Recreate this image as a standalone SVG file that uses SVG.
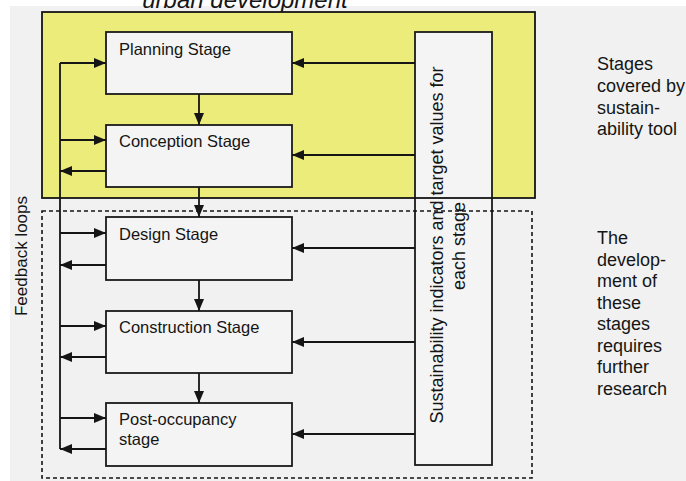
<svg xmlns="http://www.w3.org/2000/svg" width="686" height="481" viewBox="0 0 686 481">
<defs>
<marker id="ah" viewBox="0 0 12 10" refX="12" refY="5" markerWidth="12" markerHeight="10" markerUnits="userSpaceOnUse" orient="auto">
<path d="M0,0 L12,5 L0,10 Z" fill="#151515"/>
</marker>
<style>
.t{font-family:"Liberation Sans",Arial,sans-serif;fill:#151515}
.lbl{font-size:16.5px}
.side{font-size:18px}
.box{fill:#f4f4f4;stroke:#1a1a1a;stroke-width:1.8}
.c{fill:none;stroke:#151515;stroke-width:1.8}
.ca{fill:none;stroke:#151515;stroke-width:1.8;marker-end:url(#ah)}
</style>
</defs>
<rect x="0" y="0" width="686" height="481" fill="#ffffff"/>
<rect x="10" y="6" width="676" height="475" fill="#f1f1f1"/>
<text class="t" x="245" y="8" font-size="24" font-style="italic" text-anchor="middle">urban development</text>

<rect x="42" y="12" width="493" height="186" fill="#ecec7a"/>

<g id="indicators">
<rect x="415" y="32" width="77" height="433" class="box"/>
<text class="t side" transform="translate(443,245) rotate(-90)" text-anchor="middle">Sustainability indicators and target values for</text>
<text class="t side" transform="translate(465,246) rotate(-90)" text-anchor="middle">each stage</text>
</g>

<g id="regions">
<rect x="42" y="12" width="493" height="186" fill="none" stroke="#151515" stroke-width="1.8"/>
<rect x="42" y="211" width="490" height="267" fill="none" stroke="#151515" stroke-width="1.6" stroke-dasharray="4,3"/>
</g>

<g id="planning">
<rect x="106" y="32" width="186" height="62" class="box"/>
<text class="t lbl" x="119" y="54.5">Planning Stage</text>
</g>
<g id="conception">
<rect x="106" y="125" width="186" height="62" class="box"/>
<text class="t lbl" x="119" y="147">Conception Stage</text>
</g>
<g id="design">
<rect x="106" y="217" width="186" height="63" class="box"/>
<text class="t lbl" x="119" y="240">Design Stage</text>
</g>
<g id="construction">
<rect x="106" y="311" width="186" height="62" class="box"/>
<text class="t lbl" x="119" y="333">Construction Stage</text>
</g>
<g id="postoccupancy">
<rect x="106" y="403" width="186" height="63" class="box"/>
<text class="t lbl" x="119" y="425">Post-occupancy</text>
<text class="t lbl" x="119" y="445">stage</text>
</g>

<g id="feedback-label">
<text class="t" font-size="17" transform="translate(27,256) rotate(-90)" text-anchor="middle">Feedback loops</text>
</g>

<g id="side-notes">
<text class="t side" x="597" y="70">Stages</text>
<text class="t side" x="597" y="92">covered by</text>
<text class="t side" x="597" y="113.5">sustain-</text>
<text class="t side" x="597" y="135">ability tool</text>
<text class="t side" x="597" y="244">The</text>
<text class="t side" x="597" y="265.5">develop-</text>
<text class="t side" x="597" y="287">ment of</text>
<text class="t side" x="597" y="308.5">these</text>
<text class="t side" x="597" y="330">stages</text>
<text class="t side" x="597" y="351.5">requires</text>
<text class="t side" x="597" y="373">further</text>
<text class="t side" x="597" y="394.5">research</text>
</g>

<g id="connectors">
<!-- sequence -->
<line x1="199" y1="94" x2="199" y2="125" class="ca"/>
<line x1="199" y1="187" x2="199" y2="217" class="ca"/>
<line x1="199" y1="280" x2="199" y2="311" class="ca"/>
<line x1="199" y1="373" x2="199" y2="403" class="ca"/>
<!-- indicators to stages -->
<line x1="415" y1="63" x2="292" y2="63" class="ca"/>
<line x1="415" y1="155" x2="292" y2="155" class="ca"/>
<line x1="415" y1="248" x2="292" y2="248" class="ca"/>
<line x1="415" y1="342" x2="292" y2="342" class="ca"/>
<line x1="415" y1="434" x2="292" y2="434" class="ca"/>
<!-- feedback bus -->
<line x1="60" y1="63" x2="60" y2="449" class="c"/>
<line x1="60" y1="63" x2="106" y2="63" class="ca"/>
<line x1="60" y1="140" x2="106" y2="140" class="ca"/>
<line x1="106" y1="171" x2="60" y2="171" class="ca"/>
<line x1="60" y1="233" x2="106" y2="233" class="ca"/>
<line x1="106" y1="265" x2="60" y2="265" class="ca"/>
<line x1="60" y1="326" x2="106" y2="326" class="ca"/>
<line x1="106" y1="357" x2="60" y2="357" class="ca"/>
<line x1="60" y1="418" x2="106" y2="418" class="ca"/>
<line x1="106" y1="449" x2="60" y2="449" class="ca"/>
</g>
</svg>
